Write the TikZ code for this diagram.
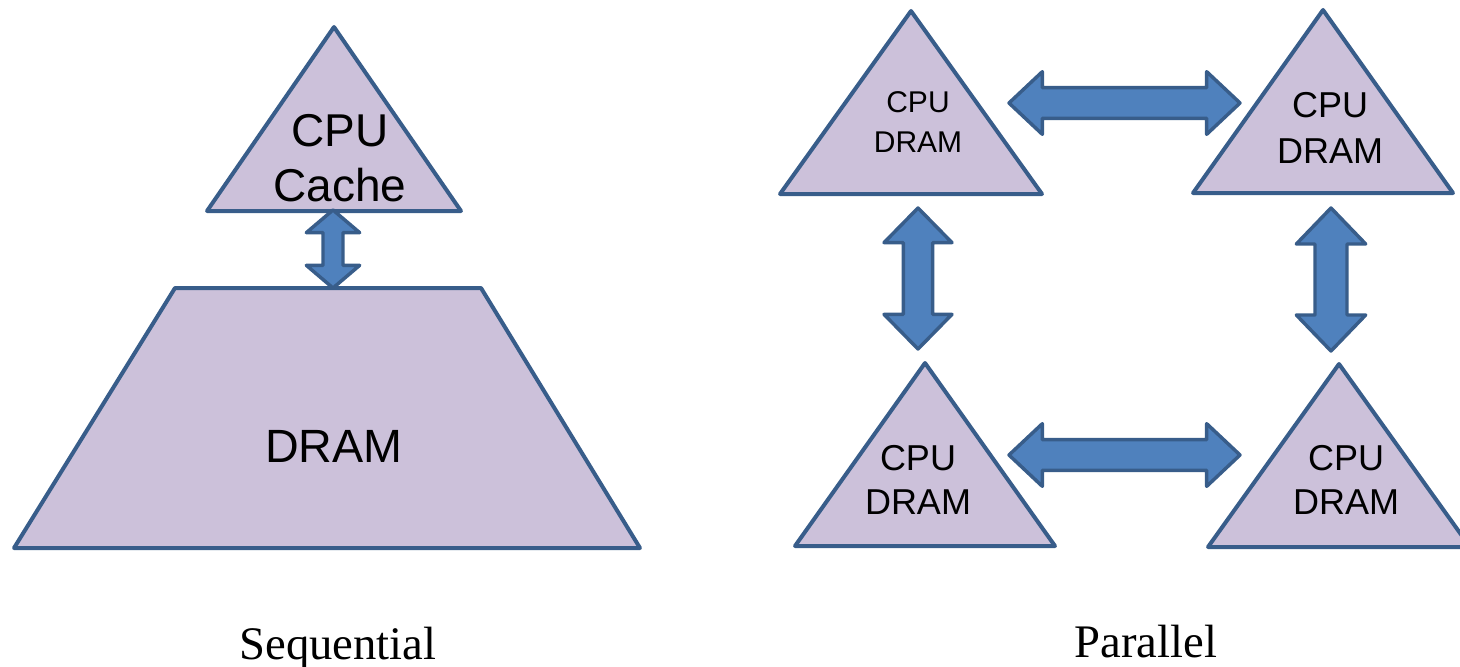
\documentclass[tikz,border=0pt]{standalone}
\usepackage{fontspec}
\setmainfont{Liberation Serif}
\setsansfont{Liberation Sans}
\usetikzlibrary{calc}
\definecolor{lilla}{HTML}{CCC1DA}
\definecolor{bordo}{HTML}{385D8A}
\definecolor{freccia}{HTML}{4F81BD}
\tikzset{
  box/.style = {fill=lilla, draw=bordo, line width=3pt, line join=round},
  blocco/.style = {fill=freccia, draw=bordo, line width=2.6pt, line join=round},
  etich/.style = {align=center, inner sep=0pt},
}
% freccia doppia piena: punta, punta, lunghezza testa, semilarghezza testa, semilarghezza asta
\newcommand{\doppiafreccia}[5]{
\draw[blocco] (#1)
  -- ($(#1)!#3!(#2)!#4!90:(#2)$) -- ($(#1)!#3!(#2)!#5!90:(#2)$)
  -- ($(#2)!#3!(#1)!#5!-90:(#1)$) -- ($(#2)!#3!(#1)!#4!-90:(#1)$)
  -- (#2)
  -- ($(#2)!#3!(#1)!#4!90:(#1)$) -- ($(#2)!#3!(#1)!#5!90:(#1)$)
  -- ($(#1)!#3!(#2)!#5!-90:(#2)$) -- ($(#1)!#3!(#2)!#4!-90:(#2)$)
  -- cycle;
}

\begin{document}
\begin{tikzpicture}[x=0.75pt, y=-0.75pt]
    % Cornice
    \useasboundingbox (0,0) rectangle (1460,667);
    \clip (0,0) rectangle (1460,667);
    % Sequenziale
    \draw[box] (207,211) -- (334,27) -- (461,211) -- cycle;
    \draw[box] (175,288) -- (481,288) -- (640,548) -- (14,548) -- cycle;
    \node[etich, font={\sffamily\fontsize{34.5}{41}\selectfont}] (cache) at (340,158) {CPU\\Cache};
    \node[etich, font={\sffamily\fontsize{35}{42}\selectfont}] (dram) at (334,446) {DRAM};
    \coordinate (s1) at (333,210);
    \coordinate (s2) at (333,288);
    \doppiafreccia{s1}{s2}{17pt}{20pt}{7.5pt}
    \node[anchor=base, font=\fontsize{35}{42}\selectfont] (seq) at (338,659) {Sequential};
    % Parallelo
    \foreach \x/\y/\w in {911/11/131, 1323/10/130, 925/363/130, 1339/364/131}
      \draw[box] ({\x-\w},{\y+183}) -- (\x,\y) -- ({\x+\w},{\y+183}) -- cycle;
    \node[etich, font={\sffamily\fontsize{22.5}{30}\selectfont}] (nodo1) at (918,122) {CPU\\DRAM};
    \node[etich, font={\sffamily\fontsize{27}{34.5}\selectfont}] (nodo2) at (1330,128) {CPU\\DRAM};
    \node[etich, font={\sffamily\fontsize{27}{33.5}\selectfont}] (nodo3) at (918,480) {CPU\\DRAM};
    \node[etich, font={\sffamily\fontsize{27}{33.5}\selectfont}] (nodo4) at (1346,480) {CPU\\DRAM};
    \coordinate (a1) at (1009,103);
    \coordinate (a2) at (1240,103);
    \coordinate (b1) at (1009,455);
    \coordinate (b2) at (1240,455);
    \coordinate (c1) at (918,208);
    \coordinate (c2) at (918,349);
    \coordinate (d1) at (1331,208);
    \coordinate (d2) at (1331,351);
    \doppiafreccia{a1}{a2}{25pt}{23.5pt}{11.5pt}
    \doppiafreccia{b1}{b2}{25pt}{23.5pt}{11.5pt}
    \doppiafreccia{c1}{c2}{26pt}{25.5pt}{11pt}
    \doppiafreccia{d1}{d2}{27pt}{26pt}{12pt}
    \node[anchor=base, font=\fontsize{35}{42}\selectfont] (par) at (1146,657) {Parallel};
\end{tikzpicture}
\end{document}
